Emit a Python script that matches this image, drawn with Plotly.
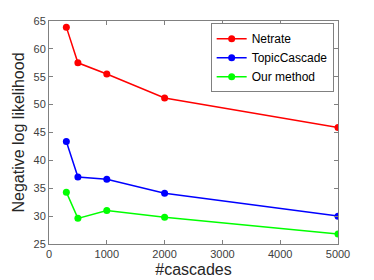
import plotly.graph_objects as go

cascades = [300, 500, 1000, 2000, 5000]
netrate = [63.9, 57.5, 55.5, 51.2, 45.9]
topic_cascade = [43.4, 37.0, 36.6, 34.1, 30.0]
our_method = [34.3, 29.6, 31.0, 29.8, 26.8]

series = [
    ("Netrate", netrate, "#ff0000"),
    ("TopicCascade", topic_cascade, "#0000ff"),
    ("Our method", our_method, "#00ff00"),
]

fig = go.Figure()
for name, vals, col in series:
    fig.add_trace(go.Scatter(
        x=cascades, y=vals, name=name, mode="lines+markers",
        line=dict(color=col, width=1.5),
        marker=dict(color=col, size=7, symbol="circle"),
    ))

axis_common = dict(
    showline=True, linecolor="#808080", linewidth=1, mirror="ticks",
    ticks="inside", ticklen=4, tickcolor="#808080",
    showgrid=False, zeroline=False,
    tickfont=dict(family="Liberation Sans, Arial", size=11, color="#404040"),
)

# page body has an 8px default margin: figure is shifted by 8px right/down
fig.update_layout(
    width=366, height=272,
    margin=dict(l=41, r=36, t=13, b=36, autoexpand=False),
    paper_bgcolor="white", plot_bgcolor="white",
    font=dict(family="Liberation Sans, Arial", color="#262626"),
    xaxis=dict(range=[0, 5000], tickvals=[0, 1000, 2000, 3000, 4000, 5000],
               title=dict(text="#cascades", font=dict(size=16, color="#262626"), standoff=4),
               **axis_common),
    yaxis=dict(range=[25, 65], tickvals=[25, 30, 35, 40, 45, 50, 55, 60, 65],
               title=dict(text="Negative log likelihood", font=dict(size=16, color="#262626"), standoff=4),
               **axis_common),
    legend=dict(x=0.985, y=0.99, xanchor="right", yanchor="top",
                bordercolor="#808080", borderwidth=1, bgcolor="white",
                font=dict(size=12, color="#000000"), itemwidth=30,
                tracegroupgap=0),
    showlegend=True,
)

fig.write_html("out.html")
